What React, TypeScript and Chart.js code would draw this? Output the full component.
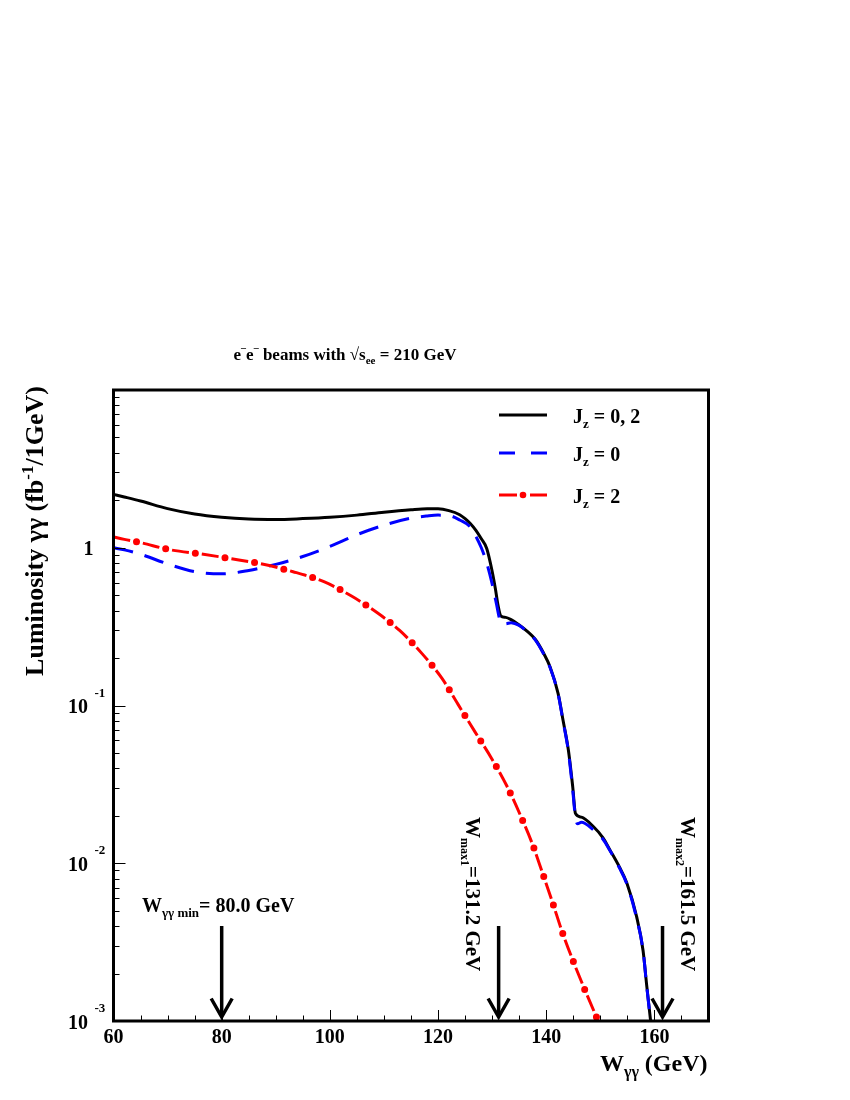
import React, { useEffect, useRef } from "react";
import { Chart, registerables } from "chart.js";
Chart.register(...registerables);

const FONT = '"Liberation Serif", "Times New Roman", serif';
const RED = "#ff0000";
const BLUE = "#0000ff";
const BLACK = "#000000";

// J_z = 0, 2 (sum)
const wSum = [60, 62, 65, 70, 75, 80, 85, 90, 95, 100, 105, 110, 115, 118, 120, 122, 124, 125, 126, 127, 128, 129, 130, 130.6, 131.1, 131.6, 132.5, 133.5, 135, 136.5, 138, 139.5, 140.7, 142.2, 143.1, 144.1, 144.9, 145.4, 146.5, 148.7, 150.5, 151.8, 153.5, 154.9, 156.7, 157.9, 158.6, 159.3];
const lumSum = [2.18, 2.1, 1.98, 1.77, 1.635, 1.56, 1.52, 1.51, 1.53, 1.56, 1.61, 1.68, 1.74, 1.765, 1.765, 1.72, 1.62, 1.53, 1.42, 1.29, 1.14, 0.99, 0.71, 0.55, 0.43, 0.37, 0.362, 0.35, 0.324, 0.295, 0.262, 0.215, 0.176, 0.119, 0.081, 0.052, 0.0305, 0.0207, 0.0196, 0.0171, 0.0145, 0.0121, 0.0095, 0.0075, 0.0046, 0.0028, 0.00165, 0.001];

// J_z = 0
const wJz0 = [60, 62, 65, 70, 75, 80, 85, 90, 95, 100, 105, 110, 115, 118, 120, 122, 124, 126, 127, 128, 129, 130, 130.8, 131.4, 131.7, 132.5, 133.5, 135, 136.5, 138, 139.5, 140.7, 142.2, 143.1, 144.1, 144.9, 145.4, 145.8, 146.5, 148.7, 150.5, 151.8, 153.5, 154.9, 156.7, 157.9, 158.6, 159.3];
const lumJz0 = [1.0, 0.97, 0.91, 0.79, 0.705, 0.683, 0.718, 0.785, 0.88, 1.02, 1.21, 1.39, 1.54, 1.59, 1.61, 1.6, 1.5, 1.35, 1.18, 1.0, 0.8, 0.59, 0.44, 0.35, 0.33, 0.33, 0.335, 0.322, 0.293, 0.26, 0.213, 0.174, 0.118, 0.08, 0.051, 0.029, 0.0195, 0.0178, 0.0182, 0.0163, 0.0142, 0.012, 0.0094, 0.0074, 0.0045, 0.0028, 0.00163, 0.001];

// J_z = 2
const wJz2 = [60, 62, 64.9, 70.4, 76.3, 82.1, 87.7, 93.2, 98.9, 104, 108.9, 112.9, 117, 120.7, 123.7, 126.8, 129.9, 132.7, 135.1, 137.35, 139.3, 141.2, 143, 145.1, 147.3, 149.6];
const lumJz2 = [1.17, 1.13, 1.08, 0.972, 0.912, 0.849, 0.785, 0.705, 0.609, 0.494, 0.384, 0.299, 0.214, 0.149, 0.1016, 0.0683, 0.0462, 0.031, 0.0206, 0.0135, 0.0087, 0.0056, 0.00363, 0.00234, 0.00153, 0.001];

const xMajorTicks = [60, 80, 100, 120, 140, 160];
const xMinorTicks = [65, 70, 75, 85, 90, 95, 105, 110, 115, 125, 130, 135, 145, 150, 155, 165];
const yDecades = [0.001, 0.01, 0.1, 1];
const yDecadeBase = ["10", "10", "10", "1"];
const yDecadeExp = ["-3", "-2", "-1", ""];
const yMinorMultipliers = [2, 3, 4, 5, 6, 7, 8, 9];

const legendSubs = ["0, 2", "0", "2"];
const wMin = 80.0;
const wMax1 = 131.2;
const wMax2 = 161.5;

type Piece = { t: string; s: number; dy: number };

function fontOf(s: number) {
  return `bold ${s}px ${FONT}`;
}
function richWidth(ctx: CanvasRenderingContext2D, pieces: Piece[]) {
  let w = 0;
  for (const p of pieces) {
    ctx.font = fontOf(p.s);
    w += ctx.measureText(p.t).width;
  }
  return w;
}
function drawRich(ctx: CanvasRenderingContext2D, pieces: Piece[], x: number, y: number, align: "left" | "center" | "right") {
  const w = richWidth(ctx, pieces);
  let cx = align === "left" ? x : align === "center" ? x - w / 2 : x - w;
  ctx.textAlign = "left";
  ctx.textBaseline = "alphabetic";
  for (const p of pieces) {
    ctx.font = fontOf(p.s);
    ctx.fillText(p.t, cx, y + p.dy);
    cx += ctx.measureText(p.t).width;
  }
}
function seg(ctx: CanvasRenderingContext2D, x1: number, y1: number, x2: number, y2: number) {
  ctx.beginPath();
  ctx.moveTo(x1, y1);
  ctx.lineTo(x2, y2);
  ctx.stroke();
}
function arrow(ctx: CanvasRenderingContext2D, x: number, yTop: number, yTip: number) {
  ctx.save();
  ctx.strokeStyle = BLACK;
  ctx.lineWidth = 3.5;
  ctx.lineCap = "butt";
  seg(ctx, x, yTop, x, yTip - 2);
  ctx.beginPath();
  ctx.moveTo(x - 10.5, yTip - 18.5);
  ctx.lineTo(x, yTip);
  ctx.lineTo(x + 10.5, yTip - 18.5);
  ctx.lineJoin = "miter";
  ctx.stroke();
  ctx.restore();
}

const rootPlugin = {
  id: "rootStyle",
  afterDatasetsDraw(chart: any) {
    const ctx: CanvasRenderingContext2D = chart.ctx;
    const a = chart.chartArea;
    const xs = chart.scales.x;
    const ys = chart.scales.y;
    ctx.save();
    ctx.fillStyle = BLACK;
    ctx.strokeStyle = BLACK;

    // ticks
    ctx.lineWidth = 1;
    for (const v of xMajorTicks) {
      const px = Math.round(xs.getPixelForValue(v)) + 0.5;
      seg(ctx, px, a.bottom, px, a.bottom - 11);
    }
    for (const v of xMinorTicks) {
      const px = Math.round(xs.getPixelForValue(v)) + 0.5;
      seg(ctx, px, a.bottom, px, a.bottom - 5.5);
    }
    for (const d of yDecades) {
      const py = Math.round(ys.getPixelForValue(d)) + 0.5;
      seg(ctx, a.left, py, a.left + 12, py);
      for (const m of yMinorMultipliers) {
        const v = d * m;
        const pm = Math.round(ys.getPixelForValue(v)) + 0.5;
        seg(ctx, a.left, pm, a.left + 6, pm);
      }
    }

    // frame
    ctx.lineWidth = 3;
    ctx.strokeRect(a.left, a.top, a.right - a.left, a.bottom - a.top);

    // x tick labels
    ctx.font = fontOf(20);
    ctx.textAlign = "center";
    ctx.textBaseline = "alphabetic";
    for (const v of xMajorTicks) {
      ctx.fillText(String(v), xs.getPixelForValue(v), a.bottom + 22);
    }
    // y tick labels
    yDecades.forEach((d, i) => {
      const py = ys.getPixelForValue(d);
      if (yDecadeExp[i] === "") {
        ctx.font = fontOf(20);
        ctx.textAlign = "right";
        ctx.fillText(yDecadeBase[i], a.left - 20, py + 7);
      } else {
        ctx.font = fontOf(20);
        ctx.textAlign = "right";
        ctx.fillText(yDecadeBase[i], a.left - 25.5, py + 7.5);
        ctx.font = fontOf(13);
        ctx.textAlign = "left";
        ctx.fillText(yDecadeExp[i], a.left - 19, py - 9);
      }
    });

    // title
    drawRich(ctx, [
      { t: "e", s: 17, dy: 0 },
      { t: "\u2013", s: 10, dy: -9 },
      { t: "e", s: 17, dy: 0 },
      { t: "\u2013", s: 10, dy: -9 },
      { t: " beams with \u221As", s: 17, dy: 0 },
      { t: "ee", s: 11, dy: 4 },
      { t: " = 210 GeV", s: 17, dy: 0 },
    ], 345, 360, "center");

    // x axis title
    drawRich(ctx, [
      { t: "W", s: 24, dy: 0 },
      { t: "\u03B3\u03B3", s: 16, dy: 6 },
      { t: " (GeV)", s: 24, dy: 0 },
    ], a.right - 1, a.bottom + 50, "right");

    // y axis title
    ctx.save();
    ctx.translate(43, 531);
    ctx.rotate(-Math.PI / 2);
    drawRich(ctx, [
      { t: "Luminosity \u03B3\u03B3 (fb", s: 26, dy: 0 },
      { t: "-1", s: 17, dy: -10 },
      { t: "/1GeV)", s: 26, dy: 0 },
    ], 0, 0, "center");
    ctx.restore();

    // legend
    const lx1 = 499, lx2 = 547;
    const ly = [415, 453, 495];
    ctx.lineCap = "butt";
    ctx.lineWidth = 3;
    ctx.strokeStyle = BLACK;
    seg(ctx, lx1, ly[0], lx2, ly[0]);
    ctx.strokeStyle = BLUE;
    seg(ctx, lx1, ly[1], lx1 + 16, ly[1]);
    seg(ctx, lx2 - 16, ly[1], lx2, ly[1]);
    ctx.strokeStyle = RED;
    seg(ctx, lx1, ly[2], lx1 + 18, ly[2]);
    seg(ctx, lx2 - 17, ly[2], lx2, ly[2]);
    ctx.fillStyle = RED;
    ctx.beginPath();
    ctx.arc(523, ly[2], 3.3, 0, Math.PI * 2);
    ctx.fill();
    ctx.fillStyle = BLACK;
    legendSubs.forEach((s, i) => {
      drawRich(ctx, [
        { t: "J", s: 20, dy: 0 },
        { t: "z", s: 13, dy: 5 },
        { t: " = " + s, s: 20, dy: 0 },
      ], 573, ly[i] + 8, "left");
    });

    // markers
    const xMin = xs.getPixelForValue(wMin);
    const x1 = xs.getPixelForValue(wMax1);
    const x2 = xs.getPixelForValue(wMax2);
    arrow(ctx, xMin, 926, a.bottom - 4);
    arrow(ctx, x1, 926, a.bottom - 4);
    arrow(ctx, x2, 926, a.bottom - 4);

    ctx.fillStyle = BLACK;
    drawRich(ctx, [
      { t: "W", s: 20, dy: 0 },
      { t: "\u03B3\u03B3 min", s: 13, dy: 5 },
      { t: "= " + wMin.toFixed(1) + " GeV", s: 20, dy: 0 },
    ], 142, 912, "left");

    const rot = (x: number, label: string, val: number) => {
      ctx.save();
      ctx.translate(x, 817);
      ctx.rotate(Math.PI / 2);
      drawRich(ctx, [
        { t: "W", s: 21, dy: 0 },
        { t: label, s: 12, dy: 5 },
        { t: "=" + val.toFixed(1) + " GeV", s: 21, dy: 0 },
      ], 0, 0, "left");
      ctx.restore();
    };
    rot(x1 - 33, "max1", wMax1);
    rot(x2 + 18, "max2", wMax2);

    ctx.restore();
  },
};

function pts(xs: number[], ys: number[]) {
  return xs.map((x, i) => ({ x, y: ys[i] }));
}

export default function App() {
  const ref = useRef<HTMLCanvasElement>(null);
  useEffect(() => {
    const canvas = ref.current!;
    const common = {
      pointRadius: 0,
      fill: false,
      cubicInterpolationMode: "monotone" as const,
    };
    const chart = new Chart(canvas, {
      type: "line",
      data: {
        datasets: [
          {
            label: "J_z = 2 (dots)",
            data: pts(wJz2, lumJz2),
            borderColor: RED,
            borderWidth: 7,
            borderDash: [0, 30],
            borderDashOffset: -23.5,
            borderCapStyle: "round",
            ...common,
          },
          {
            label: "J_z = 2",
            data: pts(wJz2, lumJz2),
            borderColor: RED,
            borderWidth: 3,
            borderDash: [17, 13],
            borderCapStyle: "butt",
            ...common,
          },
          {
            label: "J_z = 0",
            data: pts(wJz0, lumJz0),
            borderColor: BLUE,
            borderWidth: 3,
            borderDash: [20, 12],
            borderCapStyle: "butt",
            ...common,
          },
          {
            label: "J_z = 0, 2",
            data: pts(wSum, lumSum),
            borderColor: BLACK,
            borderWidth: 3,
            ...common,
          },
        ],
      },
      options: {
        responsive: false,
        animation: false,
        devicePixelRatio: 1,
        layout: { padding: { left: 113.5, top: 390, right: 141.5, bottom: 79 } },
        scales: {
          x: { type: "linear", min: 60, max: 170, display: false },
          y: { type: "logarithmic", min: 0.001, max: 10, display: false },
        },
        plugins: { legend: { display: false }, tooltip: { enabled: false } },
      },
      plugins: [rootPlugin],
    } as any);
    return () => chart.destroy();
  }, []);
  return (
    <div style={{ position: "absolute", left: 0, top: 0, width: 850, height: 1100, background: "#fff" }}>
      <canvas ref={ref} width={850} height={1100} style={{ display: "block", width: 850, height: 1100 }} />
    </div>
  );
}
